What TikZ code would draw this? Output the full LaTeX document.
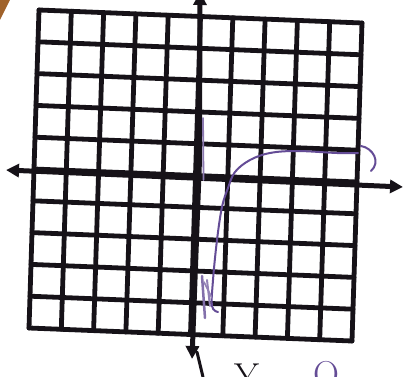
\documentclass[tikz,border=0pt]{standalone}
\usetikzlibrary{arrows.meta}
\definecolor{ink}{RGB}{22,18,24}
\definecolor{pen}{RGB}{100,76,150}
\definecolor{wood}{RGB}{160,98,42}
\begin{document}
\begin{tikzpicture}[x=1pt,y=-1pt,
  gridline/.style={ink,line width=4.8pt,line cap=round},
  axisline/.style={ink,line width=5pt,line join=round},
  curve/.style={pen,line width=2pt,line cap=round,line join=round},
  handtext/.style={anchor=north,inner sep=0pt,font=\fontsize{36}{36}\selectfont}]
\useasboundingbox (0,0) rectangle (405,377);
\fill[white] (0,0) rectangle (405,377);
\fill[wood] (0,0) -- (10,0) -- (0,20) -- cycle;
% grid
\begin{scope}[shift={(39,10)},x={(32.3pt,-1.3pt)},y={(-1.0pt,-31.8pt)}]
  \foreach \i in {0,...,10} {
    \draw[gridline] (\i,0) -- (\i,10);
    \draw[gridline] (0,\i) -- (10,\i);
  }
\end{scope}
% axes
\coordinate (xl) at (6,170);
\coordinate (xr) at (403,187);
\coordinate (yt) at (200,-8);
\coordinate (ym) at (199.5,160);
\coordinate (yb) at (192,359);
\coordinate (s1) at (197,352);
\coordinate (s2) at (203,377);
\draw[axisline,{Triangle[length=13pt,width=13pt]}-{Triangle[length=13pt,width=13pt]}] (xl) -- (xr);
\draw[axisline,{Triangle[length=13pt,width=13pt]}-{Triangle[length=13pt,width=13pt]}] (yt) -- (ym) -- (yb);
\draw[ink,line width=3pt,line cap=round] (s1) -- (s2);
% purple marks
\draw[curve,line width=1.8pt,pen!75] (203,118) -- (203.5,180);
\draw[curve] plot[smooth,tension=0.6] coordinates {(218,312) (212,306) (213,280) (217,240) (222,207) (228,188) (235,172) (250,160) (270,153) (297,151) (337,153) (358,153)};
\draw[curve] (361,146) .. controls (373,148) and (381,162) .. (371,171);
\draw[curve,pen!80,line width=2.5pt] (202,276) -- (205,318);
\draw[curve,pen!70,line width=2pt] (207,280) -- (210,306);
\draw[curve,pen!70,line width=1.6pt] (204,282) -- (212,298);
% bottom text
\node[handtext,ink] (ylab) at (247,364) {Y};
\node[handtext,pen] (zlab) at (326,361) {O};
\end{tikzpicture}
\end{document}
